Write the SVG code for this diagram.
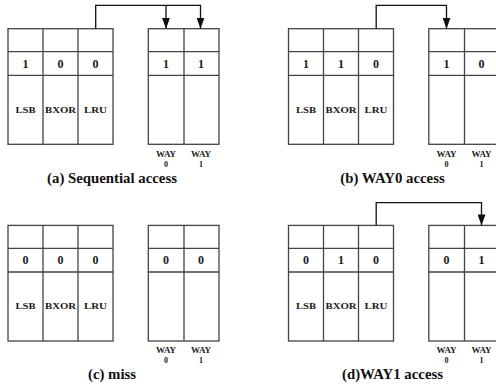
<svg xmlns="http://www.w3.org/2000/svg" width="496" height="387" viewBox="0 0 496 387" font-family="'Liberation Serif', 'Times New Roman', serif">
<style>
.g{fill:#fff;stroke:#444;stroke-width:1.3}
.ln{stroke:#444;stroke-width:1.3;fill:none}
.c{stroke:#111;stroke-width:1.3;fill:none}
text{font-family:'Liberation Serif','Times New Roman',serif;font-weight:bold;fill:#1a1a1a;text-anchor:middle}
.d{font-size:12px}
.s{font-size:9px}
.w{font-size:9px}
.w0{font-size:8px}
.cap{font-size:14.8px;fill:#111}
</style>
<defs>
<marker id="ah" viewBox="0 0 11 8" refX="11" refY="4" markerWidth="11" markerHeight="8" markerUnits="userSpaceOnUse" orient="auto">
<path d="M0 0 L11 4 L0 8 Z" fill="#111"/>
</marker>
<g id="ltab">
<rect class="g" x="8" y="28.7" width="105" height="115.6"/>
<path class="ln" d="M43 28.7V144.3M78 28.7V144.3M8 51.7H113M8 75.3H113"/>
<text class="s" x="25.5" y="112.7" textLength="20" lengthAdjust="spacingAndGlyphs">LSB</text>
<text class="s" x="60.5" y="112.7" textLength="31" lengthAdjust="spacingAndGlyphs">BXOR</text>
<text class="s" x="95.5" y="112.7" textLength="23" lengthAdjust="spacingAndGlyphs">LRU</text>
</g>
<g id="rtab">
<rect class="g" x="148.3" y="28.7" width="70.7" height="115.6"/>
<path class="ln" d="M184 28.7V144.3M148.3 51.7H219M148.3 75.3H219"/>
<text class="w" x="166" y="156.7">WAY</text>
<text class="w" x="201" y="156.7">WAY</text>
<text class="w0" x="166" y="166.7">0</text>
<text class="w0" x="201" y="166.7">1</text>
</g>
</defs>

<g id="panel-a">
<g id="a-state"><use href="#ltab"/>
<text class="d" x="25.5" y="67.7">1</text><text class="d" x="60.5" y="67.7">0</text><text class="d" x="95.5" y="67.7">0</text></g>
<g id="a-ways"><use href="#rtab"/>
<text class="d" x="166" y="67.7">1</text><text class="d" x="201" y="67.7">1</text></g>
<text class="cap" x="112" y="182.7">(a) Sequential access</text>
</g>

<g id="panel-b" transform="translate(280.5 0)">
<g id="b-state"><use href="#ltab"/>
<text class="d" x="25.5" y="67.7">1</text><text class="d" x="60.5" y="67.7">1</text><text class="d" x="95.5" y="67.7">0</text></g>
<g id="b-ways"><use href="#rtab"/>
<text class="d" x="166" y="67.7">1</text><text class="d" x="201" y="67.7">0</text></g>
<text class="cap" x="112" y="182.7">(b) WAY0 access</text>
</g>

<g id="panel-c" transform="translate(0 196.7)">
<g id="c-state"><use href="#ltab"/>
<text class="d" x="25.5" y="67.7">0</text><text class="d" x="60.5" y="67.7">0</text><text class="d" x="95.5" y="67.7">0</text></g>
<g id="c-ways"><use href="#rtab"/>
<text class="d" x="166" y="67.7">0</text><text class="d" x="201" y="67.7">0</text></g>
<text class="cap" x="112" y="182.7">(c) miss</text>
</g>

<g id="panel-d" transform="translate(280.5 196.7)">
<g id="d-state"><use href="#ltab"/>
<text class="d" x="25.5" y="67.7">0</text><text class="d" x="60.5" y="67.7">1</text><text class="d" x="95.5" y="67.7">0</text></g>
<g id="d-ways"><use href="#rtab"/>
<text class="d" x="166" y="67.7">0</text><text class="d" x="201" y="67.7">1</text></g>
<text class="cap" x="112" y="182.7">(d)WAY1 access</text>
</g>

<g id="connectors">
<path class="c" d="M95.7 28.7V5.3H200.5V28.7" marker-end="url(#ah)"/>
<path class="c" d="M166 5.3V28.7" marker-end="url(#ah)"/>
<path class="c" d="M376.2 28.7V5.3H446.5V28.7" marker-end="url(#ah)"/>
<path class="c" d="M376.2 225.4V202.7H481.5V225.4" marker-end="url(#ah)"/>
</g>
</svg>
